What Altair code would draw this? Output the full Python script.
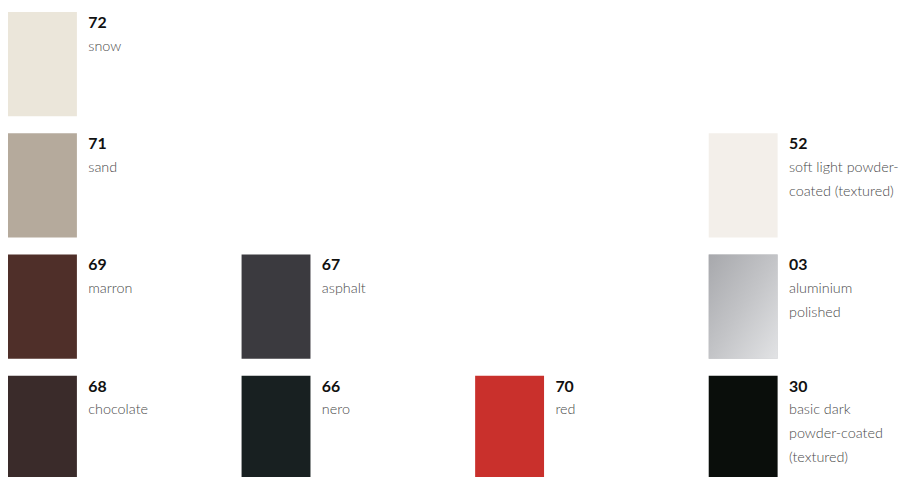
import altair as alt
import pandas as pd

codes = ["72", "71", "69", "67", "68", "66", "70", "52", "03", "30"]
names = ["snow", "sand", "marron", "asphalt", "chocolate", "nero", "red",
         "soft light powder-\ncoated (textured)", "aluminium\npolished",
         "basic dark\npowder-coated\n(textured)"]
colors = ["#ebe6da", "#b5aa9c", "#4f2f29", "#3b3a3f", "#3a2b2a", "#182021",
          "#c9302c", "#f3efea", "#c4c5c8", "#0a0e0b"]
rows = [0, 1, 2, 2, 3, 3, 3, 1, 2, 3]
cols = [0, 0, 0, 1, 0, 1, 2, 3, 3, 3]

df = pd.DataFrame({"code": codes, "name": names, "hex": colors, "row": rows, "col": cols})

xs = alt.Scale(domain=[0, 3], range=[0, 707])
ys = alt.Scale(domain=[0, 3], range=[2, 369])

base = alt.Chart(df).transform_calculate(
    col_end="datum.col + 0.295", row_end="datum.row + 0.86"
)

rects = base.mark_rect().encode(
    x=alt.X("col:Q", scale=xs, axis=None),
    x2="col_end:Q",
    y=alt.Y("row:Q", scale=ys, axis=None),
    y2="row_end:Q",
    color=alt.Color("hex:N", scale=None),
)

alu = base.transform_filter("datum.code == '03'").mark_rect(
    fill=alt.Gradient(
        gradient="linear",
        stops=[alt.GradientStop(color="#a7a8ac", offset=0),
               alt.GradientStop(color="#c3c4c7", offset=0.5),
               alt.GradientStop(color="#e2e3e5", offset=1)],
        x1=0, y1=0, x2=1, y2=1,
    )
).encode(
    x=alt.X("col:Q", scale=xs, axis=None),
    x2="col_end:Q",
    y=alt.Y("row:Q", scale=ys, axis=None),
    y2="row_end:Q",
)

code_text = base.mark_text(
    align="left", baseline="alphabetic", dx=81, dy=16,
    font="Lato", fontSize=16, fontWeight="bold", color="#111111",
).encode(
    x=alt.X("col:Q", scale=xs, axis=None),
    y=alt.Y("row:Q", scale=ys, axis=None),
    text="code:N",
)

name_text = base.mark_text(
    align="left", baseline="alphabetic", dx=81, dy=39, lineBreak="\n", lineHeight=24,
    font="Lato", fontSize=14.5, fontWeight=300, color="#4a4a4a",
).encode(
    x=alt.X("col:Q", scale=xs, axis=None),
    y=alt.Y("row:Q", scale=ys, axis=None),
    text="name:N",
)

chart = alt.layer(rects, alu, code_text, name_text).properties(
    width=900, height=469, padding=0, autosize=alt.AutoSizeParams(type="none")
).configure_view(stroke=None)

chart.save("out.html", embed_options={"renderer": "svg", "actions": False})
